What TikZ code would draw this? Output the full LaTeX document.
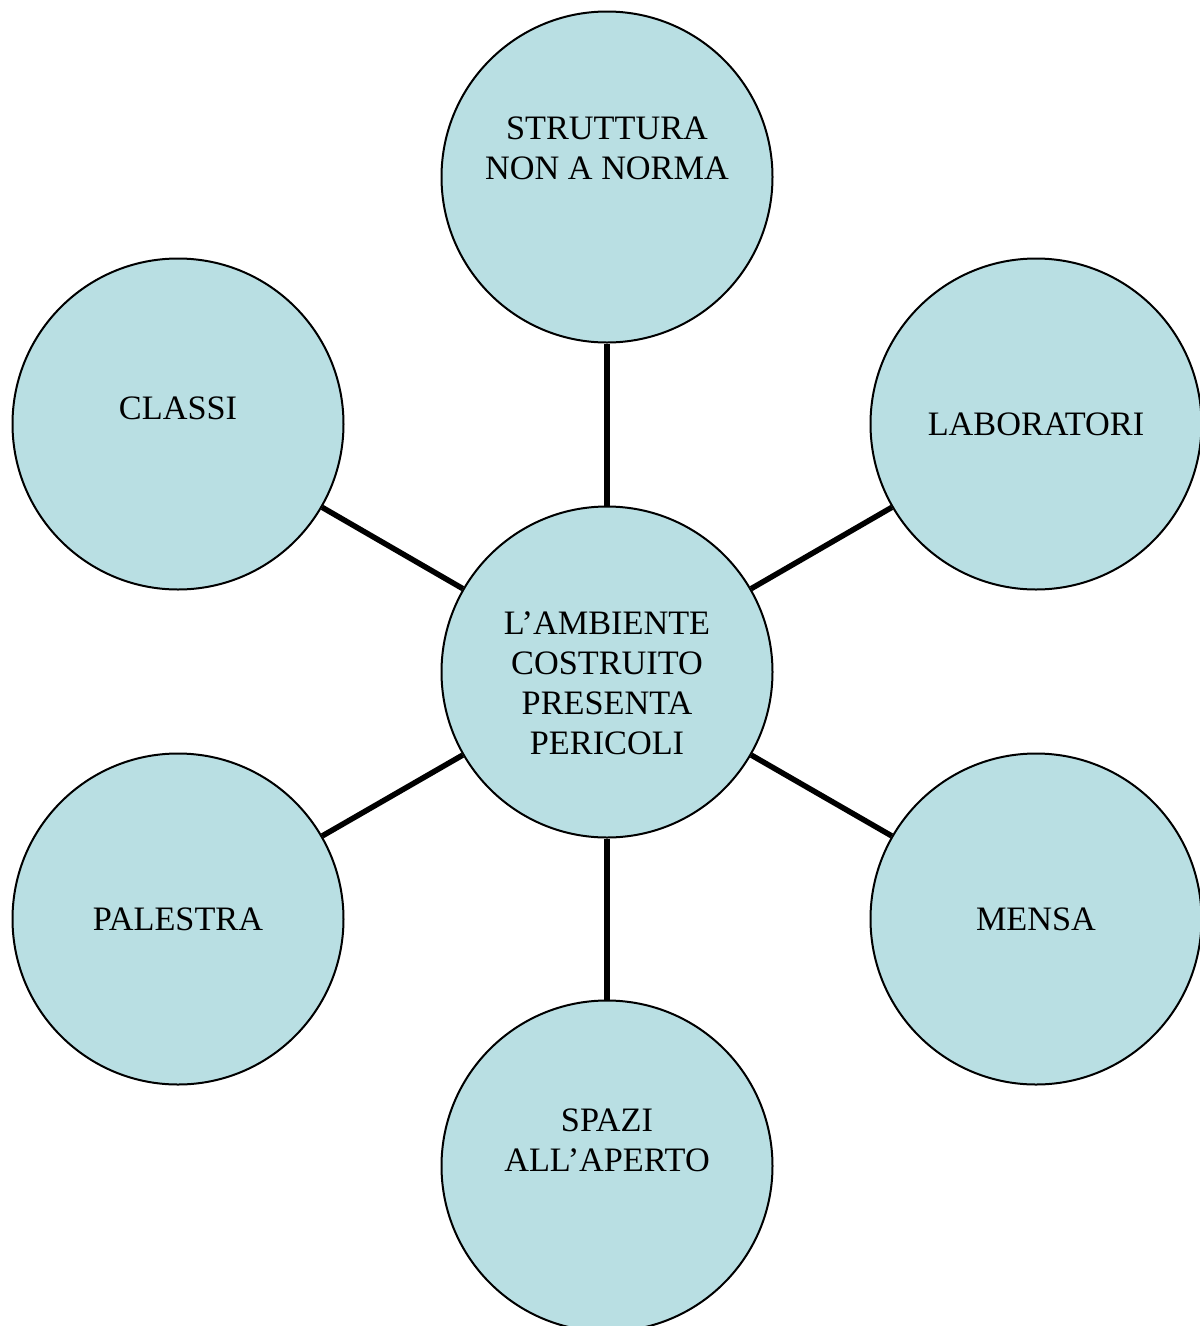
\documentclass[tikz,border=0pt]{standalone}
\usepackage{fontspec}
\setmainfont{Liberation Serif}
\usepackage{tikz}
\usetikzlibrary{calc,backgrounds}
\definecolor{bubblecolor}{RGB}{185,223,227}
\newcommand{\ringwidth}{0.04cm}
\newcommand{\spokewidth}{0.11cm}
\newcommand{\rad}{6.62cm}
\tikzset{bubble/.style={circle, draw, fill=bubblecolor, line width=\ringwidth, minimum size=\rad, inner sep=0pt, align=center, font=\fontsize{19.5pt}{22.8pt}\selectfont}}

\begin{document}
\begin{tikzpicture}
\useasboundingbox (0,0) rectangle (24,-26.52);
\node[bubble] (centro) at (12.14, -13.44) [text height=3.3cm] {L'AMBIENTE\\COSTRUITO\\PRESENTA\\PERICOLI};
\node[bubble] (struttura) at (12.14, -3.54) [text depth=1.14cm] {STRUTTURA\\NON A NORMA};
\node[bubble] (laboratori) at (20.72, -8.48) {LABORATORI};
\node[bubble] (mensa) at (20.72, -18.38) {MENSA};
\node[bubble] (spazi) at (12.14, -23.32) [text depth=1.02cm] {SPAZI\\ALL'APERTO};
\node[bubble] (palestra) at (3.56, -18.38) {PALESTRA};
\node[bubble] (classi) at (3.56, -8.48) [text depth=0.64cm] {CLASSI};
%spokes
\draw [line width = \spokewidth] (centro) -- (struttura);
\draw [line width = \spokewidth] (centro) -- (laboratori);
\draw [line width = \spokewidth] (centro) -- (mensa);
\draw [line width = \spokewidth] (centro) -- (spazi);
\draw [line width = \spokewidth] (centro) -- (palestra);
\draw [line width = \spokewidth] (centro) -- (classi);
\end{tikzpicture}
\end{document}
